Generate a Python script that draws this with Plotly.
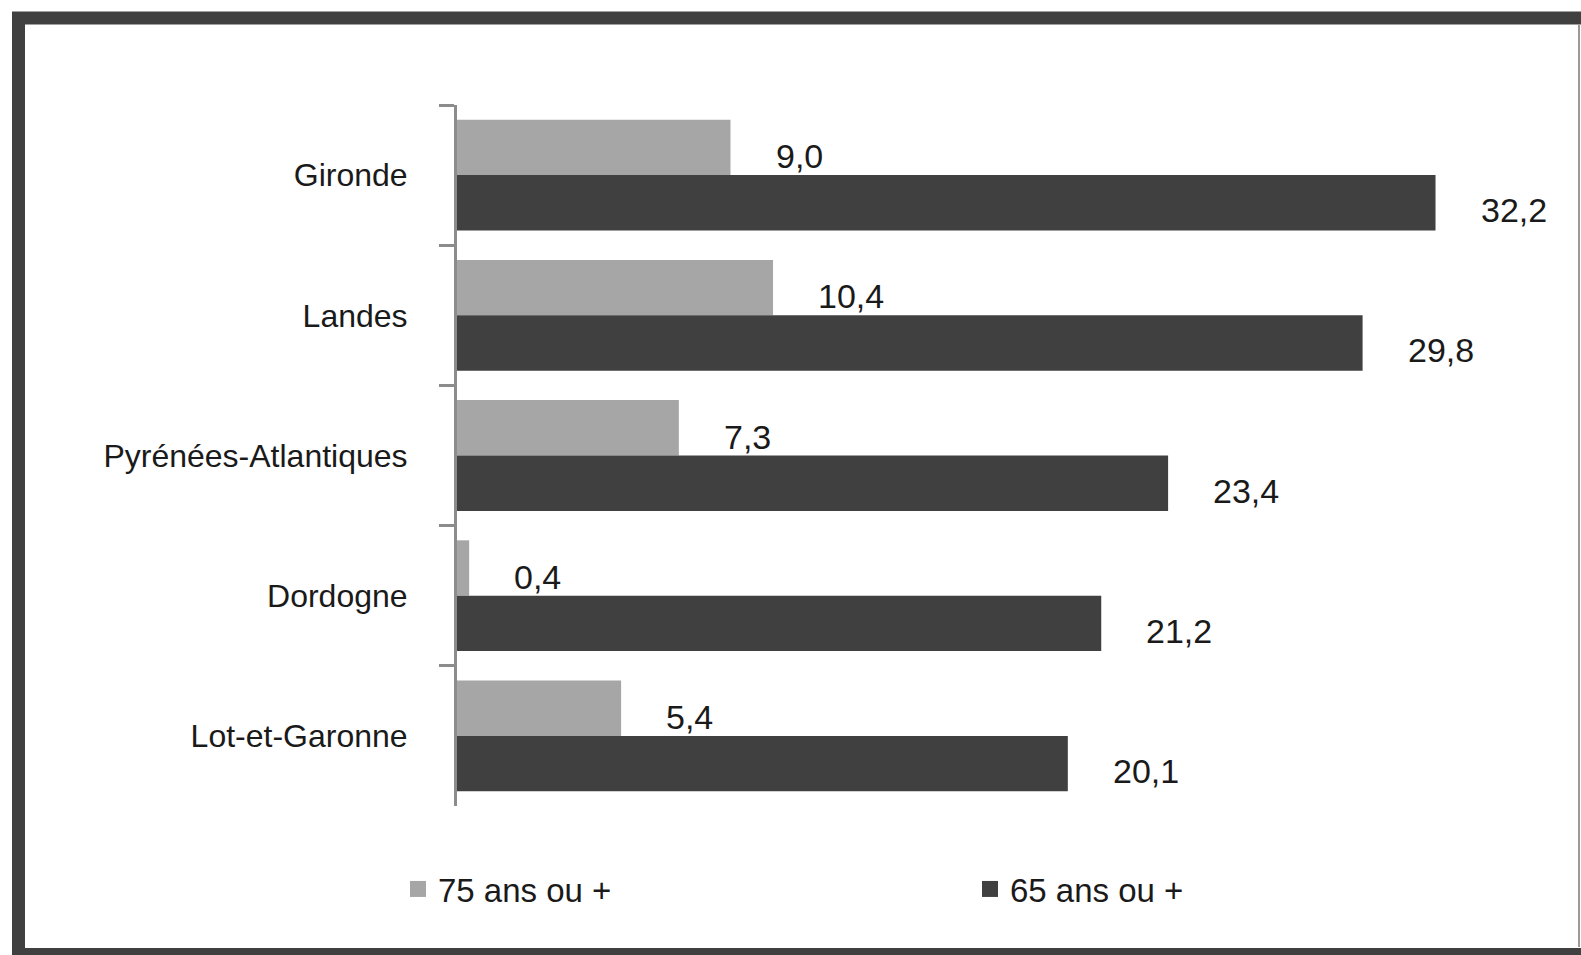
import plotly.graph_objects as go

departements = ["Gironde", "Landes", "Pyrénées-Atlantiques", "Dordogne", "Lot-et-Garonne"]
series_names = ["75 ans ou +", "65 ans ou +"]
vals_75 = [9.0, 10.4, 7.3, 0.4, 5.4]
vals_65 = [32.2, 29.8, 23.4, 21.2, 20.1]

colors = ["#a6a6a6", "#404040"]
W, H = 1581, 955
L, R, T, B = 457, 1551, 105, 806  # plot area pixels
XMAX = 36

def fmt(v):
    return f"{v:.1f}".replace(".", ",")

fig = go.Figure()
for name, vals, col in zip(series_names, [vals_75, vals_65], colors):
    fig.add_trace(go.Bar(
        y=departements, x=vals, name=name, orientation="h",
        marker=dict(color=col, line=dict(width=0)), showlegend=False,
    ))
# legend entries with larger square symbols
for name, col in zip(series_names, colors):
    fig.add_trace(go.Scatter(
        x=[None], y=[None], name=name, mode="markers",
        marker=dict(symbol="square", size=18, color=col),
    ))

annotations = []
for vals, ysh in [(vals_75, 19), (vals_65, -35)]:
    for d, v in zip(departements, vals):
        annotations.append(dict(
            x=v, y=d, xref="x", yref="y", text=fmt(v), showarrow=False,
            xanchor="left", yanchor="middle", xshift=43, yshift=ysh,
            font=dict(family="Liberation Sans", size=34, color="#1a1a1a"),
        ))

def px(xp):
    return (xp - L) / (R - L)

def py(yp):
    return (B - yp) / (B - T)

shapes = [
    dict(type="rect", xref="paper", yref="paper",
         x0=px(18.5), x1=px(1600), y0=py(18), y1=py(954.5),
         line=dict(color="#404040", width=13), fillcolor="rgba(0,0,0,0)", layer="above"),
    dict(type="line", xref="paper", yref="paper",
         x0=px(1579), x1=px(1579), y0=py(25), y1=py(947),
         line=dict(color="#999999", width=2)),
]

fig.update_layout(
    width=W, height=H,
    margin=dict(l=L, r=W - R, t=T, b=H - B),
    paper_bgcolor="white", plot_bgcolor="white",
    barmode="group", bargap=0.21, bargroupgap=0,
    font=dict(family="Liberation Sans", size=32, color="#1a1a1a"),
    xaxis=dict(range=[0, XMAX], visible=False, showgrid=False, zeroline=False),
    yaxis=dict(
        autorange="reversed", showline=True, linecolor="#8c8c8c", linewidth=3,
        ticks="outside", tickson="boundaries", ticklen=15, tickcolor="#8c8c8c", tickwidth=3,
        ticklabelstandoff=40, showgrid=False,
        tickfont=dict(family="Liberation Sans", size=32, color="#1a1a1a"),
    ),
    legend=dict(
        orientation="h", x=px(398), y=py(889), xanchor="left", yanchor="middle",
        entrywidth=527, entrywidthmode="pixels", traceorder="normal",
        itemsizing="trace",
        font=dict(family="Liberation Sans", size=33, color="#1a1a1a"),
        bgcolor="rgba(0,0,0,0)", itemwidth=30,
    ),
    annotations=annotations,
    shapes=shapes,
)

fig.write_html(
    "out.html",
    config={"displayModeBar": False},
    post_script="document.body.style.margin='0';document.body.style.overflow='hidden';",
)
